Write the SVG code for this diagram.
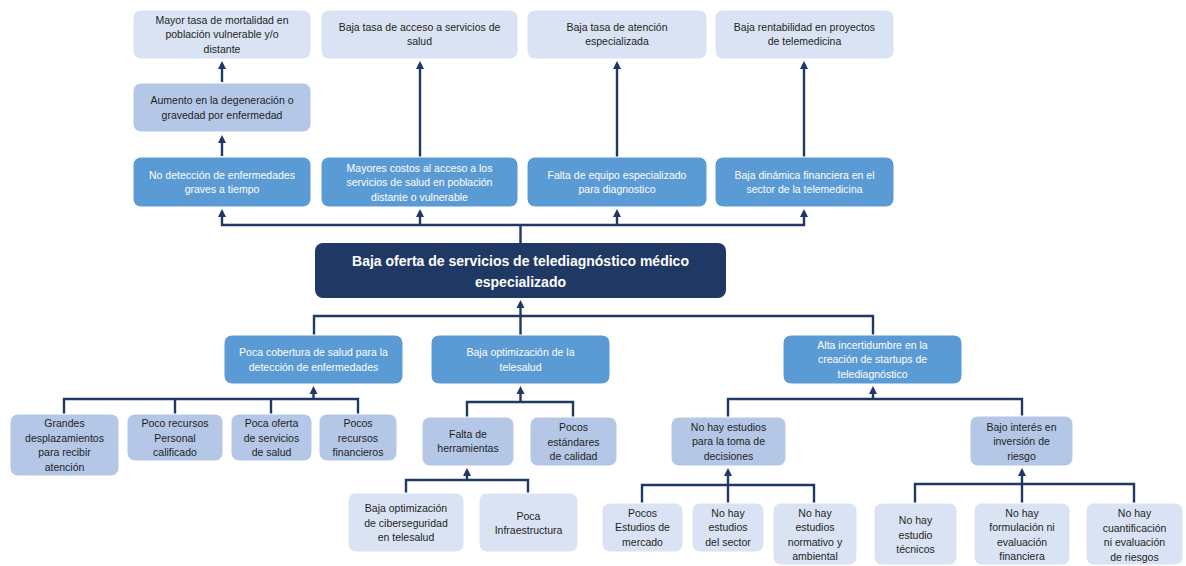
<svg xmlns="http://www.w3.org/2000/svg" width="1186" height="566" viewBox="0 0 1186 566">
<defs>
<style>
.b{stroke:#ffffff;stroke-width:1}
.l1{fill:#DAE3F3}
.l2{fill:#B4C7E7}
.m{fill:#5B9BD5}
.d{fill:#203864}
text{font-family:"Liberation Sans",Arial,sans-serif;font-size:10.5px;text-anchor:middle}
.dk{fill:#1e1e1e}
.wt{fill:#ffffff}
.big{font-size:14px;font-weight:bold;fill:#ffffff}
.c{fill:none;stroke:#1F3864;stroke-width:2.4}
.ah{fill:#1F3864}
</style>
</defs>
<rect width="1186" height="566" fill="#ffffff"/>

<g id="connectors">
<path class="c" d="M222,82 V64"/>
<path class="ah" d="M218,69 L222,61 L226,69 Z"/>
<path class="c" d="M222,156 V138"/>
<path class="ah" d="M218,143 L222,135 L226,143 Z"/>
<path class="c" d="M420,157 V64"/>
<path class="ah" d="M416,69 L420,61 L424,69 Z"/>
<path class="c" d="M617,157 V64"/>
<path class="ah" d="M613,69 L617,61 L621,69 Z"/>
<path class="c" d="M804,157 V64"/>
<path class="ah" d="M800,69 L804,61 L808,69 Z"/>
<path class="c" d="M222,212 V225 H804 V212 M420,225 V212 M617,225 V212 M520.5,225 V243"/>
<path class="ah" d="M218,217 L222,209 L226,217 Z"/>
<path class="ah" d="M416,217 L420,209 L424,217 Z"/>
<path class="ah" d="M613,217 L617,209 L621,217 Z"/>
<path class="ah" d="M800,217 L804,209 L808,217 Z"/>
<path class="c" d="M314,335 V316 H873 V335 M520.5,335 V303"/>
<path class="ah" d="M516.5,308 L520.5,300 L524.5,308 Z"/>
<path class="c" d="M64,414 V399 H358 V414 M175,414 V399 M271,414 V399 M313.5,399 V389"/>
<path class="ah" d="M309.5,394 L313.5,386 L317.5,394 Z"/>
<path class="c" d="M467,417 V402 H573 V417 M520.5,402 V389"/>
<path class="ah" d="M516.5,394 L520.5,386 L524.5,394 Z"/>
<path class="c" d="M406,493 V480 H528 V493 M467,480 V471"/>
<path class="ah" d="M463,476 L467,468 L471,476 Z"/>
<path class="c" d="M728,417 V399 H1022 V416 M873,399 V389"/>
<path class="ah" d="M869,394 L873,386 L877,394 Z"/>
<path class="c" d="M642,503 V485 H814 V503 M728,503 V471"/>
<path class="ah" d="M724,476 L728,468 L732,476 Z"/>
<path class="c" d="M915,503 V484 H1134 V503 M1022,503 V471"/>
<path class="ah" d="M1018,476 L1022,468 L1026,476 Z"/>
</g>

<g id="n_mortalidad">
<rect class="b l1" x="133" y="10" width="178" height="49" rx="8"/>
<text class="dk" x="222" y="23.5">Mayor tasa de mortalidad en<tspan x="222" dy="14.5">población vulnerable y/o</tspan><tspan x="222" dy="14.5">distante</tspan></text>
</g>
<g id="n_acceso">
<rect class="b l1" x="321" y="10" width="197" height="49" rx="8"/>
<text class="dk" x="419.5" y="30.75">Baja tasa de acceso a servicios de<tspan x="419.5" dy="14.5">salud</tspan></text>
</g>
<g id="n_atencion">
<rect class="b l1" x="527" y="10" width="180" height="49" rx="8"/>
<text class="dk" x="617" y="30.75">Baja tasa de atención<tspan x="617" dy="14.5">especializada</tspan></text>
</g>
<g id="n_rentabilidad">
<rect class="b l1" x="715" y="10" width="179" height="49" rx="8"/>
<text class="dk" x="804.5" y="30.75">Baja rentabilidad en proyectos<tspan x="804.5" dy="14.5">de telemedicina</tspan></text>
</g>
<g id="n_aumento">
<rect class="b l2" x="133" y="83" width="178" height="49" rx="8"/>
<text class="dk" x="222" y="104.25">Aumento en la degeneración o<tspan x="222" dy="14.5">gravedad por enfermedad</tspan></text>
</g>
<g id="n_nodeteccion">
<rect class="b m" x="133" y="157" width="178" height="50" rx="8"/>
<text class="wt" x="222" y="178.75">No detección de enfermedades<tspan x="222" dy="14.5">graves a tiempo</tspan></text>
</g>
<g id="n_costos">
<rect class="b m" x="321" y="157" width="197" height="50" rx="8"/>
<text class="wt" x="419.5" y="171.5">Mayores costos al acceso a los<tspan x="419.5" dy="14.5">servicios de salud en población</tspan><tspan x="419.5" dy="14.5">distante o vulnerable</tspan></text>
</g>
<g id="n_equipo">
<rect class="b m" x="527" y="157" width="180" height="50" rx="8"/>
<text class="wt" x="617" y="178.75">Falta de equipo especializado<tspan x="617" dy="14.5">para diagnostico</tspan></text>
</g>
<g id="n_dinamica">
<rect class="b m" x="715" y="157" width="179" height="50" rx="8"/>
<text class="wt" x="804.5" y="178.75">Baja dinámica financiera en el<tspan x="804.5" dy="14.5">sector de la telemedicina</tspan></text>
</g>

<g id="n_main">
<rect class="d" x="315" y="243" width="411" height="55" rx="8"/>
<text class="big" x="520.5" y="265.5">Baja oferta de servicios de telediagnóstico médico<tspan x="520.5" dy="21">especializado</tspan></text>
</g>

<g id="n_cobertura">
<rect class="b m" x="224" y="335" width="179" height="49" rx="8"/>
<text class="wt" x="313.5" y="356.25">Poca cobertura de salud para la<tspan x="313.5" dy="14.5">detección de enfermedades</tspan></text>
</g>
<g id="n_optimizacion">
<rect class="b m" x="431" y="335" width="179" height="49" rx="8"/>
<text class="wt" x="520.5" y="356.25">Baja optimización de la<tspan x="520.5" dy="14.5">telesalud</tspan></text>
</g>
<g id="n_incertidumbre">
<rect class="b m" x="783" y="335" width="179" height="49" rx="8"/>
<text class="wt" x="872.5" y="348.7">Alta incertidumbre en la<tspan x="872.5" dy="14.5">creación de startups de</tspan><tspan x="872.5" dy="14.5">telediagnóstico</tspan></text>
</g>

<g id="n_desplazamientos">
<rect class="b l2" x="10" y="414" width="109" height="62" rx="8"/>
<text class="dk" x="64.5" y="427">Grandes<tspan x="64.5" dy="14.5">desplazamientos</tspan><tspan x="64.5" dy="14.5">para recibir</tspan><tspan x="64.5" dy="14.5">atención</tspan></text>
</g>
<g id="n_personal">
<rect class="b l2" x="127" y="414" width="96" height="47" rx="8"/>
<text class="dk" x="175" y="427">Poco recursos<tspan x="175" dy="14.5">Personal</tspan><tspan x="175" dy="14.5">calificado</tspan></text>
</g>
<g id="n_oferta">
<rect class="b l2" x="231" y="414" width="81" height="47" rx="8"/>
<text class="dk" x="271.5" y="427">Poca oferta<tspan x="271.5" dy="14.5">de servicios</tspan><tspan x="271.5" dy="14.5">de salud</tspan></text>
</g>
<g id="n_financieros">
<rect class="b l2" x="319" y="414" width="78" height="47" rx="8"/>
<text class="dk" x="358" y="427">Pocos<tspan x="358" dy="14.5">recursos</tspan><tspan x="358" dy="14.5">financieros</tspan></text>
</g>

<g id="n_herramientas">
<rect class="b l2" x="422" y="417" width="92" height="49" rx="8"/>
<text class="dk" x="468" y="437.7">Falta de<tspan x="468" dy="14.5">herramientas</tspan></text>
</g>
<g id="n_estandares">
<rect class="b l2" x="530" y="417" width="87" height="49" rx="8"/>
<text class="dk" x="573.5" y="431.3">Pocos<tspan x="573.5" dy="14.5">estándares</tspan><tspan x="573.5" dy="14.5">de calidad</tspan></text>
</g>
<g id="n_ciberseguridad">
<rect class="b l1" x="348" y="493" width="116" height="59" rx="8"/>
<text class="dk" x="406" y="512.3">Baja optimización<tspan x="406" dy="14.5">de ciberseguridad</tspan><tspan x="406" dy="14.5">en telesalud</tspan></text>
</g>
<g id="n_infraestructura">
<rect class="b l1" x="479" y="493" width="99" height="59" rx="8"/>
<text class="dk" x="528.5" y="519.7">Poca<tspan x="528.5" dy="14.5">Infraestructura</tspan></text>
</g>

<g id="n_estudios">
<rect class="b l2" x="671" y="417" width="115" height="49" rx="8"/>
<text class="dk" x="728.5" y="430.7">No hay estudios<tspan x="728.5" dy="14.5">para la toma de</tspan><tspan x="728.5" dy="14.5">decisiones</tspan></text>
</g>
<g id="n_interes">
<rect class="b l2" x="970" y="416" width="103" height="50" rx="8"/>
<text class="dk" x="1021.5" y="430.7">Bajo interés en<tspan x="1021.5" dy="14.5">inversión de</tspan><tspan x="1021.5" dy="14.5">riesgo</tspan></text>
</g>

<g id="n_mercado">
<rect class="b l1" x="602" y="503" width="81" height="49" rx="8"/>
<text class="dk" x="642.5" y="516.7">Pocos<tspan x="642.5" dy="14.5">Estudios de</tspan><tspan x="642.5" dy="14.5">mercado</tspan></text>
</g>
<g id="n_sector">
<rect class="b l1" x="692" y="503" width="72" height="49" rx="8"/>
<text class="dk" x="728" y="516.7">No hay<tspan x="728" dy="14.5">estudios</tspan><tspan x="728" dy="14.5">del sector</tspan></text>
</g>
<g id="n_normativo">
<rect class="b l1" x="773" y="503" width="84" height="62" rx="8"/>
<text class="dk" x="815" y="516.7">No hay<tspan x="815" dy="14.5">estudios</tspan><tspan x="815" dy="14.5">normativo y</tspan><tspan x="815" dy="14.5">ambiental</tspan></text>
</g>
<g id="n_tecnicos">
<rect class="b l1" x="874" y="503" width="83" height="62" rx="8"/>
<text class="dk" x="915.5" y="524">No hay<tspan x="915.5" dy="14.5">estudio</tspan><tspan x="915.5" dy="14.5">técnicos</tspan></text>
</g>
<g id="n_formulacion">
<rect class="b l1" x="974" y="503" width="96" height="62" rx="8"/>
<text class="dk" x="1022" y="516.7">No hay<tspan x="1022" dy="14.5">formulación ni</tspan><tspan x="1022" dy="14.5">evaluación</tspan><tspan x="1022" dy="14.5">financiera</tspan></text>
</g>
<g id="n_cuantificacion">
<rect class="b l1" x="1086" y="503" width="97" height="62" rx="8"/>
<text class="dk" x="1134.5" y="517">No hay<tspan x="1134.5" dy="14.5">cuantificación</tspan><tspan x="1134.5" dy="14.5">ni evaluación</tspan><tspan x="1134.5" dy="14.5">de riesgos</tspan></text>
</g>
</svg>
